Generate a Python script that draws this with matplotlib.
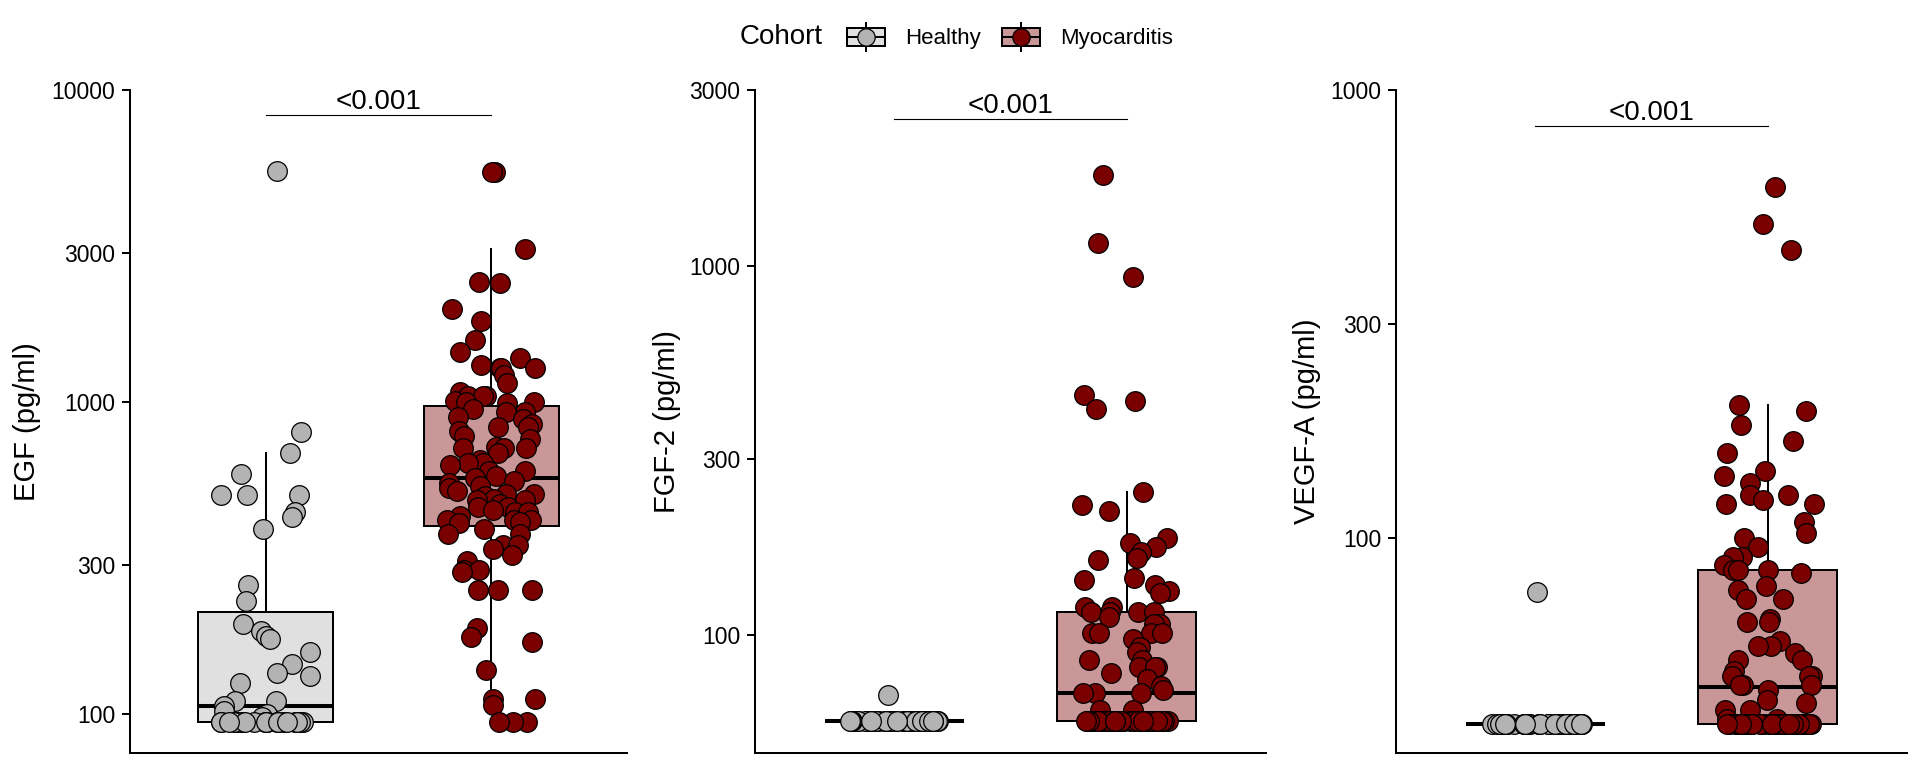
import numpy as np
import matplotlib
matplotlib.use('Agg')
import matplotlib.pyplot as plt
from matplotlib import cbook
from matplotlib.transforms import offset_copy
from matplotlib.legend_handler import HandlerBase
from matplotlib.patches import Rectangle
from matplotlib.lines import Line2D

plt.rcParams['font.family'] = ['Liberation Sans', 'DejaVu Sans']

# values (pg/ml)
egf_healthy = [5500, 800, 684, 586, 504, 504, 504, 444, 428, 391, 259, 231, 194,
               184, 178, 174, 158, 145, 135, 132, 126, 110, 110, 106, 102, 100, 98,
               94.5, 94.5, 94.5, 94.5, 94.5, 94.5, 94.5, 94.5, 94.5, 94.5,
               94.5, 94.5, 94.5, 94.5, 94.5, 94.5, 94.5, 94.5, 94.5, 94.5]
egf_myo = [5470, 5470, 3090, 2427, 2400, 1986, 1814, 1582, 1451, 1385,
           1312, 1290, 1290, 1290, 1219, 1150, 1075, 1047, 1047, 1047,
           1010, 1000, 1000, 990, 950, 931, 931, 896, 880, 850, 834, 834,
           805, 780, 763, 720, 710, 710, 710, 684, 650, 637,
           637, 626, 602, 602, 581, 570, 560, 551, 540, 530,
           520, 507, 507, 500, 490, 485, 485, 470, 460, 460,
           450, 444, 444, 430, 420, 420, 420, 413, 410, 391,
           378, 378, 349, 349, 339, 323, 309, 290, 290, 285,
           249, 249, 249, 188, 177, 170, 138, 112, 112, 107,
           94.5, 94.5, 94.5]

fgf_healthy = [69, 58.6, 58.6, 58.6, 58.6, 58.6, 58.6, 58.6, 58.6, 58.6, 58.6,
               58.6, 58.6, 58.6, 58.6, 58.6, 58.6, 58.6, 58.6, 58.6, 58.6,
               58.6, 58.6, 58.6, 58.6, 58.6, 58.6, 58.6, 58.6, 58.6, 58.6,
               58.6, 58.6, 58.6, 58.6, 58.6, 58.6, 58.6, 58.6, 58.6, 58.6,
               58.6, 58.6, 58.6, 58.6, 58.6, 58.6]
fgf_myo = [1766, 1153, 932, 448, 432, 410, 244, 226, 217, 184,
           178, 173, 168, 162, 160, 143, 141, 137, 132, 130,
           119, 119, 116, 116, 116, 116, 112, 107, 107, 101.5,
           101.5, 101.5, 101.5, 98, 93, 90, 86, 86, 82, 82,
           82, 79, 76, 73, 71, 70, 70, 70, 62.7, 62.7,
           58.6, 58.6, 58.6, 58.6, 58.6, 58.6, 58.6, 58.6, 58.6, 58.6,
           58.6, 58.6, 58.6, 58.6, 58.6, 58.6, 58.6, 58.6, 58.6, 58.6,
           58.6, 58.6, 58.6, 58.6, 58.6, 58.6, 58.6, 58.6, 58.6, 58.6,
           58.6, 58.6, 58.6, 58.6, 58.6, 58.6, 58.6, 58.6, 58.6, 58.6,
           58.6, 58.6, 58.6, 58.6]

vegf_healthy = [76, 38.5, 38.5, 38.5, 38.5, 38.5, 38.5, 38.5, 38.5, 38.5, 38.5,
                38.5, 38.5, 38.5, 38.5, 38.5, 38.5, 38.5, 38.5, 38.5, 38.5,
                38.5, 38.5, 38.5, 38.5, 38.5, 38.5, 38.5, 38.5, 38.5, 38.5,
                38.5, 38.5, 38.5, 38.5, 38.5, 38.5, 38.5, 38.5, 38.5, 38.5,
                38.5, 38.5, 38.5, 38.5, 38.5, 38.5]
vegf_myo = [607, 502, 439, 198, 192, 179, 165, 155, 141.5, 138,
            133, 125, 125, 122, 119, 119, 109, 103, 100, 95.5,
            90.8, 90.8, 87.4, 84.8, 84.8, 84.8, 83.5, 78.4, 76.5, 73.3,
            73.3, 66.2, 65, 65, 59, 57.5, 57.5, 55.4, 53.4, 53.4,
            50.7, 49.2, 49.2, 49.2, 47, 47, 47, 46, 43.5, 43,
            41.4, 41.4, 39.5, 39.5,
            38.5, 38.5, 38.5, 38.5, 38.5, 38.5, 38.5, 38.5, 38.5, 38.5,
            38.5, 38.5, 38.5, 38.5, 38.5, 38.5, 38.5, 38.5, 38.5, 38.5,
            38.5, 38.5, 38.5, 38.5, 38.5, 38.5, 38.5, 38.5, 38.5, 38.5,
            38.5, 38.5, 38.5, 38.5, 38.5, 38.5, 38.5, 38.5, 38.5, 38.5]

cohorts = ['Healthy', 'Myocarditis']
p_label = '<0.001'

box_fill = {'Healthy': '#E0E0E0', 'Myocarditis': '#C99797'}
point_col = {'Healthy': '#B3B3B3', 'Myocarditis': '#7A0000'}

rng = np.random.default_rng(7)
LW = 1.44


class CohortKey:
    def __init__(self, fill, point):
        self.fill = fill
        self.point = point


class CohortKeyHandler(HandlerBase):
    def create_artists(self, legend, handle, xdescent, ydescent, width, height, fontsize, trans):
        x0, y0 = -xdescent, -ydescent
        cx, cy = x0 + width / 2, y0 + height / 2
        bh = height * 0.64
        whisker = Line2D([cx, cx], [y0, y0 + height], color='black', lw=LW, transform=trans)
        box = Rectangle((x0, cy - bh / 2), width, bh, facecolor=handle.fill,
                        edgecolor='black', lw=LW, transform=trans)
        med = Line2D([x0, x0 + width], [cy, cy], color='black', lw=LW, transform=trans)
        dot = Line2D([cx], [cy], marker='o', ms=12.5, mfc=handle.point, mec='black',
                     mew=0.9, ls='none', transform=trans)
        return [whisker, box, med, dot]


def draw_panel(ax, healthy, myo, ylim, yticks, ylabel, bracket_y, label_x):
    for pos, name, vals in [(0, 'Healthy', healthy), (1, 'Myocarditis', myo)]:
        vals = np.asarray(vals, dtype=float)
        # ggplot computes box stats on the log10 scale
        st = cbook.boxplot_stats(np.log10(vals), whis=1.5)[0]
        for k in ('med', 'q1', 'q3', 'whislo', 'whishi'):
            st[k] = 10 ** st[k]
        st['fliers'] = []
        ax.bxp([st], positions=[pos], widths=0.6, showfliers=False, showcaps=False,
               patch_artist=True,
               boxprops=dict(facecolor=box_fill[name], edgecolor='black', linewidth=LW),
               medianprops=dict(color='black', linewidth=2.9, solid_capstyle='butt'),
               whiskerprops=dict(color='black', linewidth=LW))
        xj = pos + rng.uniform(-0.2, 0.2, len(vals))
        ax.scatter(xj, vals, s=200, c=point_col[name], edgecolors='black',
                   linewidths=0.9, zorder=4)

    ax.set_yscale('log')
    ax.set_ylim(*ylim)
    ax.set_xlim(-0.6, 1.6)
    ax.yaxis.set_major_locator(matplotlib.ticker.FixedLocator(yticks))
    ax.yaxis.set_minor_locator(matplotlib.ticker.NullLocator())
    ax.set_yticklabels([str(t) for t in yticks])
    ax.tick_params(axis='y', length=5.5, width=LW, pad=5, labelsize=16.5, colors='black')
    ax.tick_params(axis='x', length=0, labelbottom=False)
    for s in ('top', 'right'):
        ax.spines[s].set_visible(False)
    for s in ('left', 'bottom'):
        ax.spines[s].set_linewidth(LW)
        ax.spines[s].set_color('black')
    ax.set_ylabel(ylabel, fontsize=21)
    ax.yaxis.set_label_coords(label_x, 0.5)

    # significance bracket
    ax.plot([0, 1], [bracket_y, bracket_y], color='black', lw=0.8)
    tr = offset_copy(ax.transData, fig=ax.figure, y=4.3, units='points')
    t = ax.text(0.5, bracket_y, p_label, ha='center', va='baseline', fontsize=20, transform=tr)
    t.set_clip_path(ax.patch)


fig = plt.figure(figsize=(19.2, 7.68), dpi=100)
bottom = 1 - 753 / 768
height = (753 - 90) / 768
ax1 = fig.add_axes([130 / 1920, bottom, 497 / 1920, height])
ax2 = fig.add_axes([755 / 1920, bottom, 511 / 1920, height])
ax3 = fig.add_axes([1396 / 1920, bottom, 511 / 1920, height])

draw_panel(ax1, egf_healthy, egf_myo, (75, 10000), [100, 300, 1000, 3000, 10000],
           'EGF (pg/ml)', 8340, -0.179)
draw_panel(ax2, fgf_healthy, fgf_myo, (48, 3000), [100, 300, 1000, 3000],
           'FGF-2 (pg/ml)', 2510, -0.145)
draw_panel(ax3, vegf_healthy, vegf_myo, (33.2, 1000), [100, 300, 1000],
           'VEGF-A (pg/ml)', 832, -0.147)

# legend across the top
fig.text(740 / 1920, 1 - 37 / 768, 'Cohort', fontsize=20, ha='left', va='center')
handles = [CohortKey(box_fill[c], point_col[c]) for c in cohorts]
fig.legend(handles, cohorts, handler_map={CohortKey: CohortKeyHandler()},
           loc='center left', bbox_to_anchor=(847 / 1920, 1 - 37 / 768), ncol=2,
           frameon=False, fontsize=16, handlelength=1.71, handleheight=1.62,
           handletextpad=0.9, columnspacing=0.95, borderpad=0, borderaxespad=0)

fig.savefig('out.png', dpi=100)
